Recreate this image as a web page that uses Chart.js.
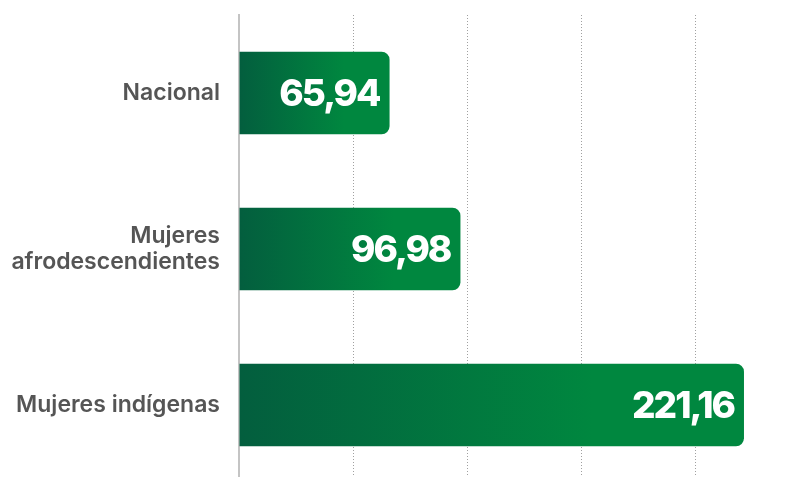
<!DOCTYPE html>
<html>
<head>
<meta charset="utf-8">
<script src="https://cdn.jsdelivr.net/npm/chart.js@4"></script>
<style>
  html, body { margin: 0; padding: 0; background: #fff; overflow: hidden; }
  #wrap { width: 796px; height: 483px; position: relative; }
</style>
</head>
<body>
<div id="wrap"><canvas id="myChart"></canvas></div>
<script>
// data
const categories = ['Nacional', ['Mujeres', 'afrodescendientes'], 'Mujeres indígenas'];
const values = [65.94, 96.98, 221.16];
const valueLabels = ['65,94', '96,98', '221,16'];
const xTicks = [0, 50, 100, 150, 200, 240];

// gradient per bar, dark at the axis, bright toward the end
function barGradient(context) {
  const chart = context.chart;
  const area = chart.chartArea;
  if (!area || !chart.scales.x) return '#00873f';
  const x0 = chart.scales.x.getPixelForValue(0);
  const x1 = chart.scales.x.getPixelForValue(values[context.dataIndex]);
  const g = chart.ctx.createLinearGradient(x0, 0, x0 + (x1 - x0) * 0.7, 0);
  g.addColorStop(0, '#035e3e');
  g.addColorStop(1, '#00873f');
  return g;
}

// numbers inside bars
const valueLabelPlugin = {
  id: 'valueLabels',
  afterDatasetsDraw(chart) {
    const ctx = chart.ctx;
    const meta = chart.getDatasetMeta(0);
    ctx.save();
    ctx.fillStyle = '#ffffff';
    ctx.font = '800 37px Inter';
    ctx.letterSpacing = '-2px';
    ctx.textAlign = 'right';
    ctx.textBaseline = 'middle';
    meta.data.forEach((bar, i) => {
      ctx.fillText(valueLabels[i], bar.x - 10, bar.y + 2);
    });
    ctx.restore();
  }
};

const ctx = document.getElementById('myChart').getContext('2d');
const myChart = new Chart(ctx, {
  type: 'bar',
  data: {
    labels: categories,
    datasets: [{
      data: values,
      backgroundColor: barGradient,
      borderRadius: 8,
      borderSkipped: 'start',
      barPercentage: 0.53,
      categoryPercentage: 1
    }]
  },
  options: {
    indexAxis: 'y',
    responsive: true,
    maintainAspectRatio: false,
    animation: false,
    layout: { padding: { top: 15, right: 9, left: 0, bottom: 0 } },
    plugins: {
      legend: { display: false },
      tooltip: { enabled: false }
    },
    scales: {
      x: {
        min: 0,
        max: 240,
        afterBuildTicks: (scale) => { scale.ticks = xTicks.map(v => ({ value: v })); },
        afterFit: (scale) => { scale.height = 0; scale.paddingLeft = 0; scale.paddingRight = 0; },
        ticks: { display: false },
        border: { display: false, dash: [1, 2] },
        grid: {
          color: (c) => (c.tick && (c.tick.value === 0 || c.tick.value === 240)) ? 'rgba(0,0,0,0)' : '#a0a0a0',
          lineWidth: 1,
          drawTicks: false
        }
      },
      y: {
        afterFit: (scale) => { scale.width = 239; scale.paddingTop = 0; scale.paddingBottom = 0; },
        border: { display: true, color: '#c4c4c4', width: 2 },
        grid: { display: false, drawTicks: false },
        ticks: {
          color: '#555555',
          padding: 19,
          font: { family: 'Inter', size: 23, weight: '600', lineHeight: 1.1 }
        }
      }
    }
  },
  plugins: [valueLabelPlugin]
});
</script>
</body>
</html>
